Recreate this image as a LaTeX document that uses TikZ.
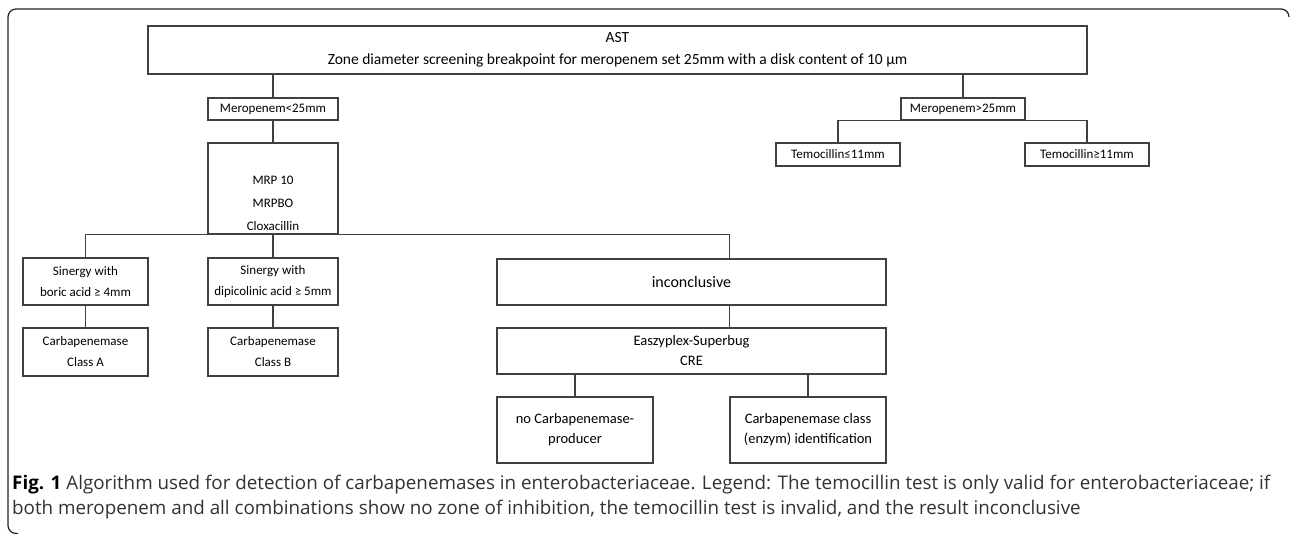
\documentclass[tikz,border=0pt]{standalone}
\usepackage{fontspec}
\setmainfont{Carlito}
\newfontfamily\capfont{Open Sans}
\usetikzlibrary{positioning, calc}
\definecolor{boxgray}{RGB}{64,64,64}
\definecolor{framegray}{RGB}{35,35,35}
\definecolor{captext}{RGB}{50,50,50}

\tikzset{
    box/.style={draw=boxgray, line width=1.2pt, inner sep=0pt, align=center,
        font=\fontsize{13}{21}\selectfont},
    bigbox/.style={box, font=\fontsize{15.5}{22}\selectfont},
    midbox/.style={box, font=\fontsize{14.5}{20}\selectfont},
    link/.style={draw=boxgray, line width=1.2pt},
}

\begin{document}
\begin{tikzpicture}[x=1pt, y=-1pt]
\useasboundingbox (0,0) rectangle (1290,534);

% frame
\draw[framegray, line width=1.2pt, rounded corners=8pt]
    (1289,17) -- (1289,9) -- (8,9) -- (8,533.5) -- (18,533.5);

% top
\node[bigbox, minimum width=939, minimum height=48] (ast) at (617.5,50)
    {AST\\Zone diameter screening breakpoint for meropenem set 25mm with a disk content of 10 µm};

% left branch
\node[box, minimum width=130, minimum height=22] (merolow) at (273,109) {Meropenem<25mm};
\node[box, minimum width=130, minimum height=91] (mrp) at (273,188.5)
    {\strut\\[2pt]MRP 10\\[2pt]MRPBO\\[2pt]Cloxacillin};
\node[box, minimum width=125, minimum height=47] (boric) at (85.5,281.5)
    {Sinergy with\\boric acid ≥ 4mm};
\node[box, minimum width=130, minimum height=47] (dipic) at (273,281.5)
    {Sinergy with\\dipicolinic acid ≥ 5mm};
\node[box, font=\fontsize{16}{20}\selectfont, minimum width=389, minimum height=46] (incon) at (691.5,282)
    {inconclusive};
\node[box, minimum width=125, minimum height=48] (classa) at (85.5,352)
    {Carbapenemase\\Class A};
\node[box, minimum width=130, minimum height=48] (classb) at (273,352)
    {Carbapenemase\\Class B};
\node[midbox, minimum width=389, minimum height=46] (easy) at (691.5,351)
    {Easzyplex-Superbug\\CRE};
\node[midbox, minimum width=156, minimum height=66] (noprod) at (575,430)
    {no Carbapenemase-\\producer};
\node[midbox, minimum width=156, minimum height=66] (carbcls) at (808,430)
    {Carbapenemase class\\(enzym) identification};

% right branch
\node[box, minimum width=124, minimum height=22] (merohigh) at (963,109) {Meropenem>25mm};
\node[box, minimum width=124, minimum height=23] (temlow) at (838,154.5) {Temocillin≤11mm};
\node[box, minimum width=124, minimum height=23] (temhigh) at (1087,154.5) {Temocillin≥11mm};

% connectors
\draw[link] (ast.south -| merolow.north) -- (merolow.north);
\draw[link] (ast.south -| merohigh.north) -- (merohigh.north);
\draw[link] (merolow) -- (mrp);
\draw[link] (boric.north) |- (mrp.south) -| (incon.north -| carbcls.west);
\draw[link] (mrp.south) -- (dipic.north);
\foreach \a/\b in {boric/classa, dipic/classb} {
    \draw[link] (\a) -- (\b);
}
\draw[link] (incon.south -| carbcls.west) -- (easy.north -| carbcls.west);
\draw[link] (easy.south -| noprod.north) -- (noprod.north);
\draw[link] (easy.south -| carbcls.north) -- (carbcls.north);
\draw[link] (temlow.north) |- (merohigh.south) -| (temhigh.north);

% caption
\node[anchor=base west, align=left, inner sep=0pt, text=captext,
    font=\capfont\fontsize{18.8}{25}\selectfont] (caption) at (12,514)
    {{\color{black}\bfseries Fig. 1} Algorithm used for detection of carbapenemases in enterobacteriaceae. Legend: The temocillin test is only valid for enterobacteriaceae; if\\
     both meropenem and all combinations show no zone of inhibition, the temocillin test is invalid, and the result inconclusive};
\end{tikzpicture}
\end{document}
